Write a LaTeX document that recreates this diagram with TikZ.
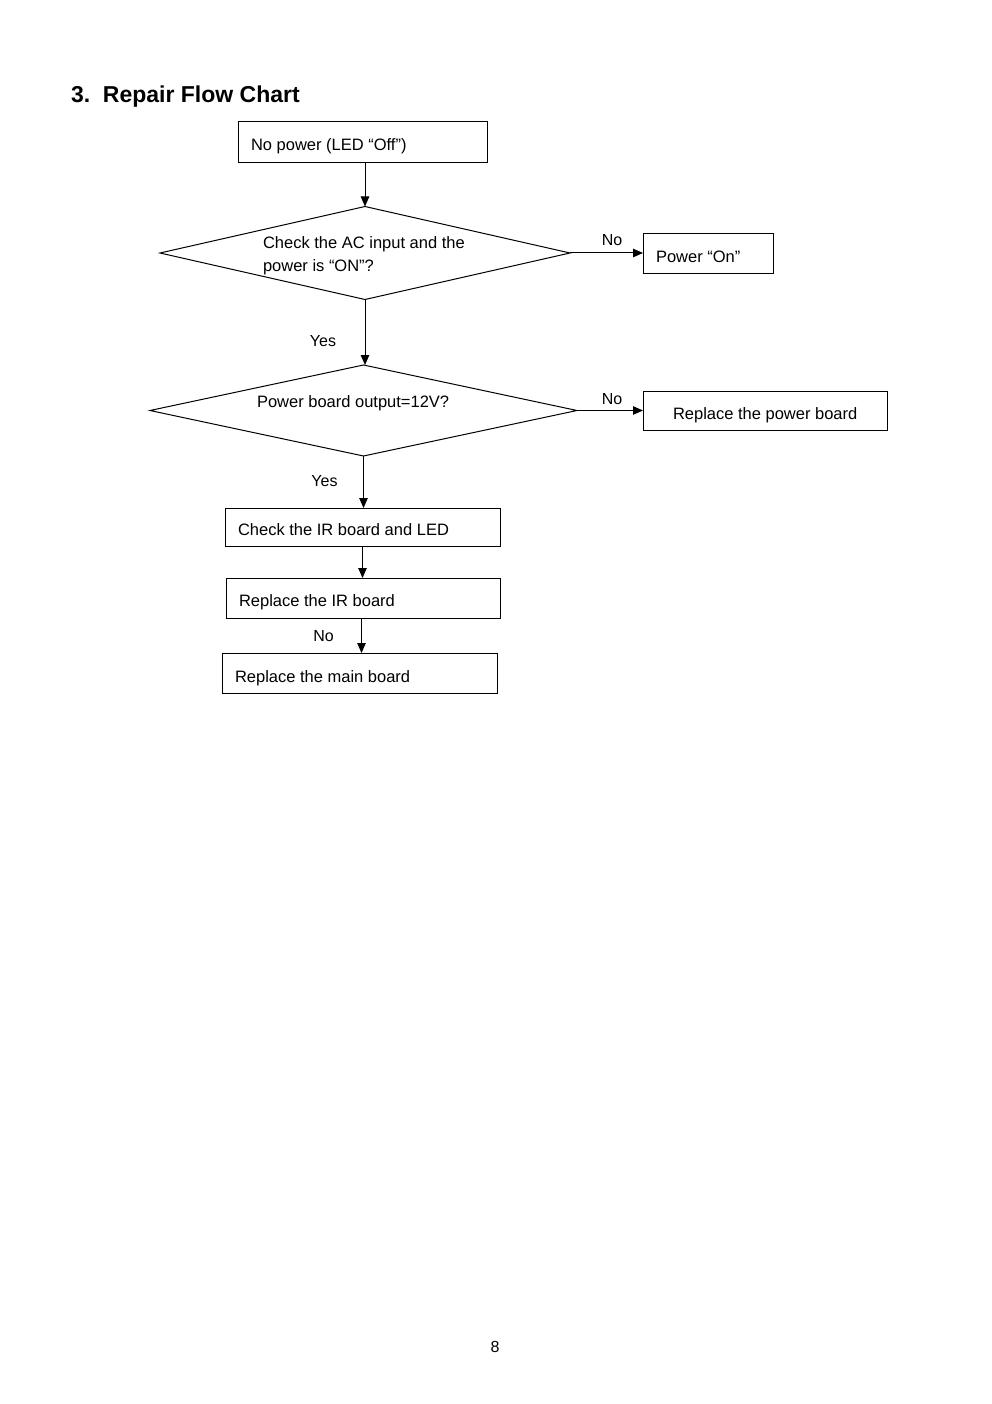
\documentclass[tikz,border=0pt]{standalone}
\usepackage{fontspec}
\setmainfont{Liberation Sans}
\usetikzlibrary{shapes.geometric,arrows.meta}
\begin{document}
\begin{tikzpicture}[x=1pt,y=-1pt,
  every node/.style={inner sep=0pt,outer sep=0pt},
  txt/.style={anchor=base west,font=\fontsize{16.5}{20}\selectfont},
  lbl/.style={anchor=base,font=\fontsize{16}{19}\selectfont},
  box/.style={draw,line width=1pt,rectangle},
  dia/.style={draw,line width=1pt,diamond},
  arr/.style={line width=1pt,-{Triangle[length=10pt,width=8.5pt]}}]
\fill[white] (0,0) rectangle (992,1404);
\useasboundingbox (0,0) rectangle (992,1404);
% title
\node[anchor=base west,font=\fontsize{23}{27}\selectfont\bfseries] (title) at (71,103) {3.\ \ Repair Flow Chart};
% shapes
\node[box,minimum width=249pt,minimum height=41pt] (b1) at (362.5,142.5) {};
\node[dia,minimum width=410pt,minimum height=93pt] (d1) at (365,253) {};
\node[box,minimum width=130pt,minimum height=40pt] (pon) at (708,253.5) {};
\node[dia,minimum width=427pt,minimum height=91pt] (d2) at (363.5,410.5) {};
\node[box,minimum width=244pt,minimum height=39pt] (pb) at (765,410.5) {};
\node[box,minimum width=275pt,minimum height=38pt] (ir) at (362.5,527) {};
\node[box,minimum width=274pt,minimum height=40pt] (rir) at (363,598) {};
\node[box,minimum width=275pt,minimum height=40pt] (mb) at (359.5,673) {};
% texts
\node[txt] (t1) at (251,151) {No power (LED “Off”)};
\node[txt] (t2a) at (263,249) {Check the AC input and the};
\node[txt] (t2b) at (263,272) {power is “ON”?};
\node[txt] (t3) at (656,263) {Power “On”};
\node[txt] (t4) at (257,407) {Power board output=12V?};
\node[txt] (t5) at (673,419) {Replace the power board};
\node[txt] (t6) at (238,535) {Check the IR board and LED};
\node[txt] (t7) at (239,606) {Replace the IR board};
\node[txt] (t8) at (235,682) {Replace the main board};
% labels
\node[lbl] (no1) at (612,246) {No};
\node[lbl] (no2) at (612,404) {No};
\node[lbl] (yes1) at (323,346) {Yes};
\node[lbl] (yes2) at (324.5,486) {Yes};
\node[lbl] (no3) at (323.5,641) {No};
% connectors
\draw[arr] (d1.north |- b1.south) -- (d1.north);
\draw[arr] (d1.east) -- (d1.east -| pon.west);
\draw[arr] (d1.south) -- (d1.south |- d2.north);
\draw[arr] (d2.east) -- (pb.west);
\draw[arr] (d2.south) -- (d2.south |- ir.north);
\draw[arr] (ir.south) -- (ir.south |- rir.north);
\draw[arr] ([xshift=-1.5pt]rir.south) -- ([xshift=-1.5pt]rir.south |- mb.north);
% page number
\node[lbl] (pg) at (495,1352) {8};
\end{tikzpicture}
\end{document}
